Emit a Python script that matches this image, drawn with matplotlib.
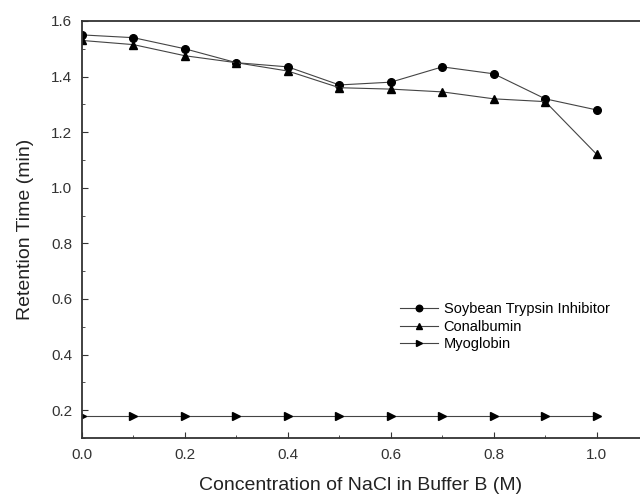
import matplotlib
matplotlib.use("Agg")
import matplotlib.pyplot as plt
from matplotlib.ticker import MultipleLocator

plt.rcParams['font.family'] = ['Liberation Sans', 'DejaVu Sans']

nacl = [0.0, 0.1, 0.2, 0.3, 0.4, 0.5, 0.6, 0.7, 0.8, 0.9, 1.0]
soybean = [1.55, 1.54, 1.50, 1.45, 1.435, 1.37, 1.38, 1.435, 1.41, 1.32, 1.28]
conalbumin = [1.53, 1.515, 1.475, 1.45, 1.42, 1.36, 1.355, 1.345, 1.32, 1.31, 1.12]
myoglobin = [0.18, 0.18, 0.18, 0.18, 0.18, 0.18, 0.18, 0.18, 0.18, 0.18, 0.18]

W, H = 640, 495
fig = plt.figure(figsize=(6.4, 4.95), dpi=100)
ax = fig.add_axes([82 / W, 1 - 438 / H, 1 - 82 / W, (438 - 21) / H])

line_kw = dict(color='#444444', linewidth=0.8, markersize=5.5,
               markerfacecolor='black', markeredgecolor='black')
ax.plot(nacl, soybean, marker='o', label='Soybean Trypsin Inhibitor', **line_kw)
ax.plot(nacl, conalbumin, marker='^', label='Conalbumin', **line_kw)
ax.plot(nacl, myoglobin, marker='>', label='Myoglobin', **line_kw)

ax.set_xlim(0, 1.084)
ax.set_ylim(0.1, 1.6)
ax.xaxis.set_minor_locator(MultipleLocator(0.1))
ax.yaxis.set_minor_locator(MultipleLocator(0.1))
ax.set_xticks([0.0, 0.2, 0.4, 0.6, 0.8, 1.0])
ax.set_yticks([0.2, 0.4, 0.6, 0.8, 1.0, 1.2, 1.4, 1.6])
ax.tick_params(which='both', direction='in', labelsize=11, colors='#333333', pad=7)
ax.tick_params(which='major', length=4)
ax.tick_params(which='minor', length=2.5)
ax.spines['right'].set_visible(False)
for s in ['left', 'bottom', 'top']:
    ax.spines[s].set_linewidth(1.3)
    ax.spines[s].set_color('#333333')

ax.set_xlabel('Concentration of NaCl in Buffer B (M)', fontsize=14, color='#222222', labelpad=11)
ax.set_ylabel('Retention Time (min)', fontsize=14, color='#222222', labelpad=12)

ax.legend(loc='upper left', bbox_to_anchor=(400 / W, 1 - 302 / H),
          bbox_transform=fig.transFigure, frameon=False, borderpad=0, borderaxespad=0,
          fontsize=10.5, handlelength=2.6, handletextpad=0.4, labelspacing=0.25,
          markerscale=0.85)

fig.savefig('out.png', dpi=100)
